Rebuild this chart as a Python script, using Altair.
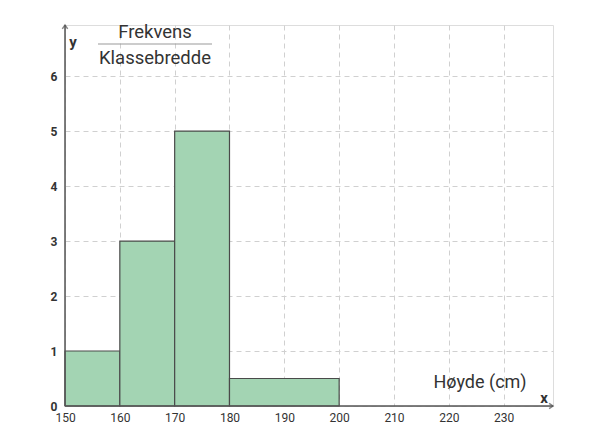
import altair as alt
import pandas as pd

# Histogram data
class_start = [150, 160, 170, 180]
class_end = [160, 170, 180, 200]
density = [1, 3, 5, 0.5]

x_ticks = [150, 160, 170, 180, 190, 200, 210, 220, 230]
y_ticks = [0, 1, 2, 3, 4, 5, 6]

bars_df = pd.DataFrame({"start": class_start, "end": class_end, "d": density})

X_DOM = [150, 239]
Y_DOM = [0, 6.93]
W, H = 488, 381

xscale = alt.Scale(domain=X_DOM, nice=False, zero=False)
yscale = alt.Scale(domain=Y_DOM, nice=False)

AX_COLOR = "#555555"
FONT = "Roboto"

base = alt.Chart(bars_df)

bars = base.mark_rect(fill="#a3d4b3", stroke="#4a4a4a", strokeWidth=1.2).encode(
    x=alt.X("start:Q", scale=xscale,
            axis=alt.Axis(values=x_ticks, grid=True, gridDash=[5, 4], gridColor="#d0d0d0",
                          gridWidth=1, domain=False, ticks=False, labelPadding=6,
                          labelFontSize=12, labelColor="#333333", labelFont=FONT,
                          title=None, labelFlush=False)),
    x2="end:Q",
    y=alt.Y("d:Q", scale=yscale,
            axis=alt.Axis(values=y_ticks, grid=True, gridDash=[5, 4], gridColor="#d0d0d0",
                          gridWidth=1, domain=False, ticks=False, labelPadding=8,
                          labelFontSize=12, labelColor="#333333", labelFont=FONT,
                          labelFontWeight="bold", title=None)),
    y2=alt.datum(0),
)

# Axis lines with arrows
xaxis_line = alt.Chart(pd.DataFrame({"a": [0]})).mark_rule(color=AX_COLOR, strokeWidth=1.5).encode(
    x=alt.value(0), x2=alt.value(W), y=alt.value(H))
yaxis_line = alt.Chart(pd.DataFrame({"a": [0]})).mark_rule(color=AX_COLOR, strokeWidth=1.5).encode(
    x=alt.value(0), y=alt.value(0), y2=alt.value(H))

x_arrow = alt.Chart(pd.DataFrame({"a": [0]})).mark_point(
    shape="M -1 -0.7 L 0 0 L -1 0.7", filled=False, stroke=AX_COLOR, strokeWidth=1.5, size=60
).encode(x=alt.value(W), y=alt.value(H))
y_arrow = alt.Chart(pd.DataFrame({"a": [0]})).mark_point(
    shape="M -0.7 1 L 0 0 L 0.7 1", filled=False, stroke=AX_COLOR, strokeWidth=1.5, size=60
).encode(x=alt.value(0), y=alt.value(0))

def txt(s, x, y, size, weight="normal", color="#333333"):
    return alt.Chart(pd.DataFrame({"t": [s]})).mark_text(
        fontSize=size, font=FONT, fontWeight=weight, color=color, align="center", baseline="middle"
    ).encode(text="t:N", x=alt.value(x), y=alt.value(y))

lbl_y = txt("y", 8, 17, 15, "bold")
lbl_x = txt("x", 479, 373, 15, "bold")
lbl_h = txt("Høyde (cm)", 415, 358, 18)
lbl_f = txt("Frekvens", 90, 7, 18.5)
lbl_k = txt("Klassebredde", 90, 33, 18.5)
frac = alt.Chart(pd.DataFrame({"a": [0]})).mark_rule(color="#999999", strokeWidth=1.2).encode(
    x=alt.value(33), x2=alt.value(147), y=alt.value(19))

chart = alt.layer(bars, xaxis_line, yaxis_line, x_arrow, y_arrow,
                  lbl_y, lbl_x, lbl_h, lbl_f, lbl_k, frac).properties(
    width=W, height=H,
    autosize=alt.AutoSizeParams(type="none"),
    padding={"left": 57, "top": 17, "right": 20, "bottom": 30},
).configure_view(stroke=None).configure(background="white")

chart.save("out.html", embed_options={"renderer": "svg", "actions": False})
